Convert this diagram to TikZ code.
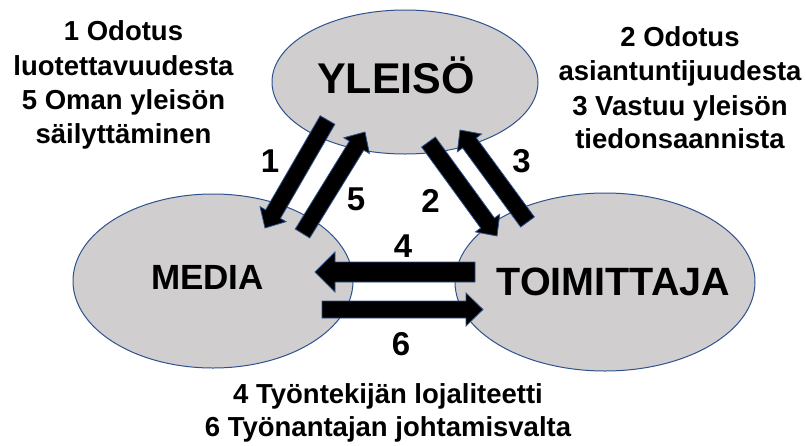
\documentclass[tikz,border=0pt]{standalone}
\usepackage{fontspec}
\setmainfont{Liberation Sans}
\usetikzlibrary{shapes.geometric,calc}
\definecolor{ellfill}{HTML}{D0CECE}
\definecolor{edgeblue}{HTML}{2F528F}
\tikzset{
  ell/.style={ellipse, fill=ellfill, draw=edgeblue, line width=1pt, inner sep=0pt},
  blockarr/.style={fill=black, draw=edgeblue, line width=0.8pt, line join=miter},
  smalltxt/.style={anchor=base, inner sep=0pt, font=\fontsize{27.5}{34}\selectfont\bfseries},
  numtxt/.style={anchor=base, inner sep=0pt, font=\fontsize{33}{36}\selectfont\bfseries},
}
\newcommand\blockarrow[5]{%
  \coordinate (bahead) at ($(#2)!#5!(#1)$);
  \draw[blockarr] ($(#1)!#3!90:(#2)$) -- ($(bahead)!#3!-90:(#1)$) -- ($(bahead)!#4!-90:(#1)$)
    -- (#2) -- ($(bahead)!#4!90:(#1)$) -- ($(bahead)!#3!90:(#1)$) -- ($(#1)!#3!-90:(#2)$) -- cycle;
}
\begin{document}
\begin{tikzpicture}[x=1pt,y=-1pt]
\useasboundingbox (0,0) rectangle (806,445);
% ellipses
\node[ell, minimum width=266pt, minimum height=144pt] (yleiso) at (405,82) {};
\node[ell, minimum width=280pt, minimum height=174pt] (media) at (213,281) {};
\node[ell, minimum width=300pt, minimum height=178pt] (toim) at (605,282) {};
% arrow end points
\coordinate (a1s) at (327.5,120);  \coordinate (a1e) at (265,228);
\coordinate (a5s) at (302.5,233.5); \coordinate (a5e) at (365,132);
\coordinate (a2s) at (428.5,142);  \coordinate (a2e) at (497,236);
\coordinate (a3s) at (527.5,222);  \coordinate (a3e) at (460,130);
\coordinate (a4s) at (475,272);    \coordinate (a4e) at (315,272);
\coordinate (a6s) at (322,309.5);  \coordinate (a6e) at (483,309.5);
% arrows
\blockarrow{a1s}{a1e}{8.5pt}{15pt}{16pt}
\blockarrow{a5s}{a5e}{8.5pt}{15pt}{16pt}
\blockarrow{a2s}{a2e}{8.5pt}{15pt}{16pt}
\blockarrow{a3s}{a3e}{8.5pt}{15pt}{16pt}
\blockarrow{a4s}{a4e}{10pt}{20pt}{20pt}
\blockarrow{a6s}{a6e}{8.5pt}{16.5pt}{17pt}
% ellipse labels
\node[anchor=base, inner sep=0pt, font=\fontsize{43}{46}\selectfont\bfseries] (lyl) at (396,93) {YLEISÖ};
\node[anchor=base, inner sep=0pt, font=\fontsize{35}{38}\selectfont\bfseries] (lme) at (207.5,289) {MEDIA};
\node[anchor=base, inner sep=0pt, font=\fontsize{39.5}{42}\selectfont\bfseries] (lto) at (613.5,295) {TOIMITTAJA};
% numbers
\node[numtxt] (n1) at (270,172) {1};
\node[numtxt] (n5) at (356,210) {5};
\node[numtxt] (n2) at (430.5,212) {2};
\node[numtxt] (n3) at (521.5,172) {3};
\node[numtxt] (n4) at (403,257) {4};
\node[numtxt] (n6) at (401,355) {6};
% left text
\node[smalltxt] (tl1) at (123.5,40.7) {1 Odotus};
\node[smalltxt] (tl2) at (123.5,75) {luotettavuudesta};
\node[smalltxt] (tl3) at (123.5,109) {5 Oman yleisön};
\node[smalltxt] (tl4) at (123.5,143) {säilyttäminen};
% right text
\node[smalltxt] (tr1) at (680,46) {2 Odotus};
\node[smalltxt] (tr2) at (680,80) {asiantuntijuudesta};
\node[smalltxt] (tr3) at (680,115) {3 Vastuu yleisön};
\node[smalltxt] (tr4) at (680,148) {tiedonsaannista};
% bottom text
\node[smalltxt] (tb1) at (388,403) {4 Työntekijän lojaliteetti};
\node[smalltxt] (tb2) at (388,436) {6 Työnantajan johtamisvalta};
\end{tikzpicture}
\end{document}
